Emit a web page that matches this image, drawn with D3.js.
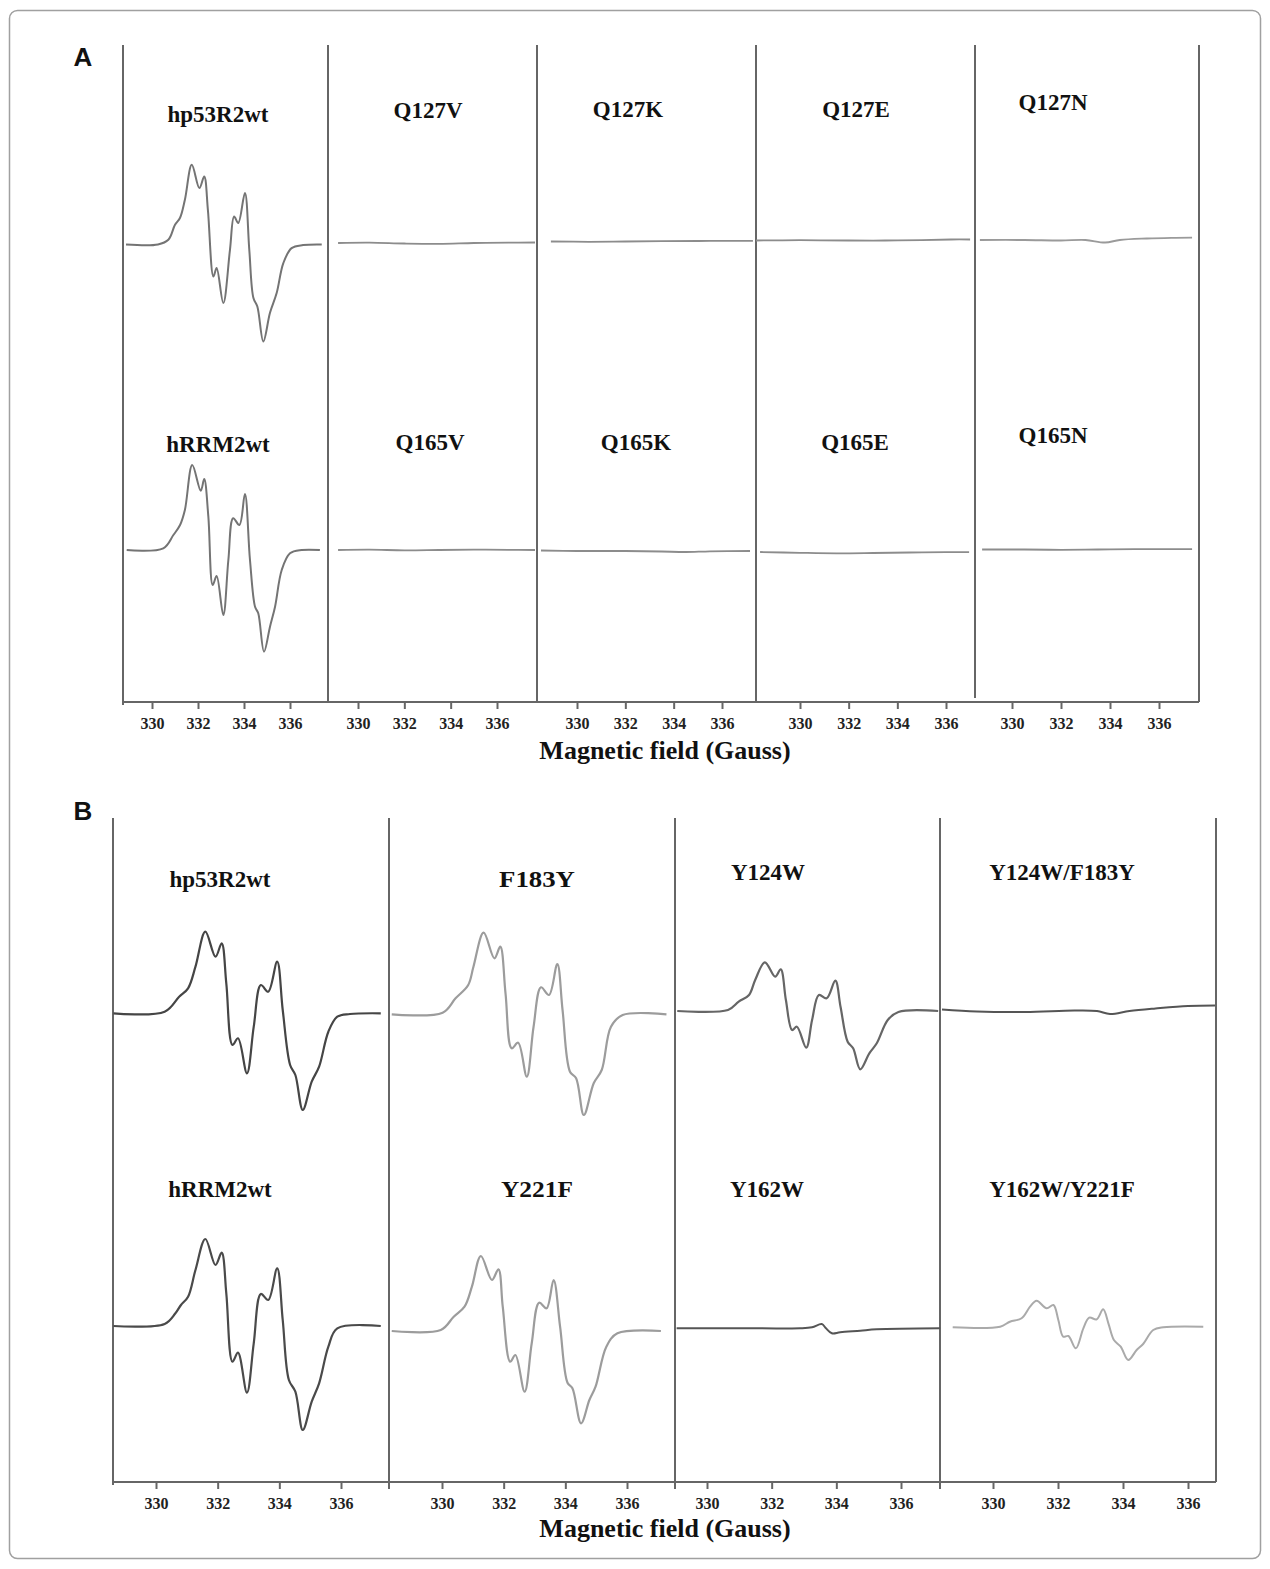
<!DOCTYPE html>
<html>
<head>
<meta charset="utf-8">
<script src="https://cdn.jsdelivr.net/npm/d3@7"></script>
<style>
  body { margin: 0; background: #fff; }
  svg { display: block; }
</style>
</head>
<body>
<svg id="fig" width="1270" height="1569"></svg>
<script>
// EPR spectra, field in Gauss, intensity in arbitrary units
const fieldTicks = [330, 332, 334, 336];

const titlesATop = ['hp53R2wt', 'Q127V', 'Q127K', 'Q127E', 'Q127N'];
const titlesABottom = ['hRRM2wt', 'Q165V', 'Q165K', 'Q165E', 'Q165N'];
const titlesBTop = ['hp53R2wt', 'F183Y', 'Y124W', 'Y124W/F183Y'];
const titlesBBottom = ['hRRM2wt', 'Y221F', 'Y162W', 'Y162W/Y221F'];

// panel A
const a_hp53R2wt = [[328.87,0],[330.26,0],[330.71,4.7],[331.0,19.7],[331.22,26.7],[331.43,44.7],[331.73,79.7],[332.06,56.4],[332.27,68],[332.43,34.7],[332.67,-32],[332.81,-23.6],[333.1,-58.6],[333.39,-5.3],[333.57,28],[333.75,21.4],[334.04,51.4],[334.23,-5.3],[334.41,-53.6],[334.58,-62],[334.84,-97],[335.13,-68.3],[335.42,-48.6],[335.71,-18.6],[336.07,-3.6],[336.57,-0.6],[337.38,0]];
const a_Q127V = [[329.14,0],[330.5,0.3],[332,-0.5],[333.5,-0.8],[335,0],[336.5,0.4],[337.64,0.5]];
const a_Q127K = [[328.92,0],[330.5,-0.3],[332,0],[333.5,0.3],[335,0.5],[336.5,0.6],[337.28,0.6]];
const a_Q127E = [[328.19,0],[330,0.3],[332,0],[333.5,0],[335,0.4],[336.2,1],[336.99,1]];
const a_Q127N = [[328.69,0],[330.5,0],[332,-0.5],[333,0],[333.8,-2.5],[334.4,0],[335.5,1.5],[336.5,2.2],[337.35,2.4]];

const a_hRRM2wt = [[328.9,0],[330.49,1.7],[330.93,15],[331.22,25],[331.43,40],[331.75,85],[332.12,59.3],[332.27,71],[332.45,33.3],[332.64,-35],[332.81,-26],[333.1,-65],[333.32,-10],[333.53,31.7],[333.8,25],[334.04,56],[334.26,-10],[334.48,-56.7],[334.62,-63.3],[334.87,-101.7],[335.13,-76.7],[335.35,-56.7],[335.64,-20],[336.0,-3.3],[336.51,0],[337.3,0]];
const a_Q165V = [[329.14,0],[330.5,0.3],[332,-0.3],[333.5,0],[335,0.3],[336.5,0.2],[337.64,0]];
const a_Q165K = [[328.51,0.5],[330,0],[332,0],[333.5,-0.5],[334.5,-1],[335.5,-0.3],[337.16,0]];
const a_Q165E = [[328.36,0.5],[330,-0.3],[331.5,-0.8],[333,-0.5],[334.5,0],[336,0.3],[336.95,0.3]];
const a_Q165N = [[328.78,0],[330.5,0],[332,-0.3],[333.5,0],[335,0.3],[336.5,0.4],[337.35,0.4]];

// panel B
const b_hp53R2wt = [[328.62,0],[330.28,1.6],[330.75,16.6],[331.04,25],[331.28,46.6],[331.6,81.6],[331.93,56.6],[332.13,70],[332.28,30],[332.48,-31.7],[332.66,-25],[332.95,-60],[333.17,-13.4],[333.4,28.3],[333.64,21.6],[333.93,51.6],[334.11,3.3],[334.35,-51.7],[334.52,-61.7],[334.76,-96.7],[335.05,-68.4],[335.29,-53.4],[335.59,-18.4],[335.88,-3.4],[336.29,-0.7],[337.29,0]];
const b_F183Y = [[328.37,0],[330.02,1.6],[330.44,16],[330.85,29.3],[331.02,47.6],[331.35,81.6],[331.7,56],[331.89,67.6],[332.06,21],[332.26,-34],[332.47,-28.4],[332.75,-62.4],[332.97,-12.4],[333.21,27],[333.47,19.3],[333.74,50.3],[333.91,4.3],[334.15,-57.4],[334.35,-64],[334.6,-100.7],[334.92,-69],[335.18,-55.7],[335.48,-12.4],[335.86,-0.7],[337.28,0]];
const b_Y124W = [[329.08,0],[330.65,1],[330.98,9.3],[331.3,16],[331.49,31],[331.79,48.7],[332.11,34.3],[332.28,41.7],[332.44,11],[332.63,-19],[332.78,-15.7],[333.07,-36.7],[333.25,-9],[333.46,16],[333.7,12.7],[333.97,30.3],[334.13,4.3],[334.35,-30.7],[334.52,-37.3],[334.74,-58.3],[335.02,-42.3],[335.25,-32.3],[335.59,-9],[335.92,-1],[337.15,0]];
const b_Y124W_F183Y = [[328.43,1.5],[329.5,-0.5],[331,-1],[332.5,0.5],[333.2,0],[333.6,-3],[334.2,0],[335,2.5],[336,5],[336.83,5.5]];

const b_hRRM2wt = [[328.62,0],[330.28,2],[330.63,12.7],[330.81,21],[331.04,29.3],[331.28,56],[331.6,87],[331.93,61],[332.13,73.3],[332.28,32.7],[332.48,-35.7],[332.66,-26.7],[332.95,-66.7],[333.17,-17.3],[333.4,32],[333.64,26],[333.93,57.7],[334.11,6],[334.31,-54],[334.52,-65.7],[334.76,-104],[335.05,-75.7],[335.29,-57.3],[335.59,-20.7],[335.88,-2.3],[337.29,0]];
const b_Y221F = [[328.37,0],[329.96,1],[330.38,14.3],[330.73,24.3],[330.97,44.3],[331.26,75],[331.62,51],[331.83,61.7],[331.97,24.3],[332.21,-30.7],[332.38,-24],[332.68,-60.7],[332.91,-12.3],[333.15,28.3],[333.39,22.7],[333.62,51],[333.83,4.3],[334.07,-51.7],[334.23,-57.3],[334.51,-92.3],[334.78,-69],[334.98,-55.7],[335.33,-15.7],[335.69,-2.3],[337.1,0]];
const b_Y162W = [[329.06,0],[331.64,0],[332.88,0],[333.25,1],[333.55,4.3],[333.68,0],[333.86,-5],[334.12,-4],[334.74,-2.4],[335.25,-1],[337.21,0]];
const b_Y162W_Y221F = [[328.76,-0.6],[330.22,0],[330.52,5],[330.88,8.4],[331.14,20],[331.34,26],[331.65,18.4],[331.86,21.7],[332.01,6.7],[332.16,-10],[332.32,-9.3],[332.55,-21.6],[332.78,-1.6],[332.96,9],[333.19,7.4],[333.39,17.4],[333.55,3.4],[333.72,-13.3],[333.93,-20],[334.16,-33.3],[334.42,-23.3],[334.62,-17.3],[334.93,-3.3],[335.24,-0.6],[336.47,0]];

const svg = d3.select('#fig');
const serif = "'Liberation Serif', 'Times New Roman', serif";

svg.append('rect')
  .attr('x', 9.5).attr('y', 10.5)
  .attr('width', 1251).attr('height', 1548)
  .attr('rx', 8)
  .attr('fill', 'none')
  .attr('stroke', '#a0a0a0')
  .attr('stroke-width', 1.5);

// intensity -> pixel offset from each trace's own baseline
const yOff = d3.scaleLinear().domain([-100, 100]).range([100, -100]);

const panels = [
  {
    letter: 'A', letterY: 66,
    left: 123, right: 1199, top: 45, axisY: 702, labelY: 759,
    dividers: [[328, 702], [537, 702], [756, 702], [975, 698]],
    cols: [[152, 290], [358, 497], [577, 722], [800, 946], [1012, 1159]],
    cells: [
      { col: 0, name: titlesATop[0], tx: 218, ty: 122, base: 244.5, data: a_hp53R2wt, color: '#747474', w: 2 },
      { col: 1, name: titlesATop[1], tx: 428, ty: 118, base: 243, data: a_Q127V, color: '#8c8c8c', w: 1.8 },
      { col: 2, name: titlesATop[2], tx: 628, ty: 117, base: 241.5, data: a_Q127K, color: '#8c8c8c', w: 1.8 },
      { col: 3, name: titlesATop[3], tx: 856, ty: 117, base: 240.5, data: a_Q127E, color: '#8c8c8c', w: 1.8 },
      { col: 4, name: titlesATop[4], tx: 1053, ty: 110, base: 240, data: a_Q127N, color: '#9a9a9a', w: 1.8 },
      { col: 0, name: titlesABottom[0], tx: 218, ty: 452, base: 550, data: a_hRRM2wt, color: '#747474', w: 2 },
      { col: 1, name: titlesABottom[1], tx: 430, ty: 450, base: 550, data: a_Q165V, color: '#8c8c8c', w: 1.8 },
      { col: 2, name: titlesABottom[2], tx: 636, ty: 450, base: 551, data: a_Q165K, color: '#8c8c8c', w: 1.8 },
      { col: 3, name: titlesABottom[3], tx: 855, ty: 450, base: 552.5, data: a_Q165E, color: '#8c8c8c', w: 1.8 },
      { col: 4, name: titlesABottom[4], tx: 1053, ty: 443, base: 549.5, data: a_Q165N, color: '#8c8c8c', w: 1.8 }
    ]
  },
  {
    letter: 'B', letterY: 820,
    left: 113, right: 1216, top: 818, axisY: 1482, labelY: 1537,
    dividers: [[389, 1489], [675, 1489], [940, 1489]],
    cols: [[156, 341], [442, 627], [707, 901], [993, 1188]],
    cells: [
      { col: 0, name: titlesBTop[0], tx: 220, ty: 887, base: 1013.3, data: b_hp53R2wt, color: '#454545', w: 2.2 },
      { col: 1, name: titlesBTop[1], tx: 537, ty: 887, base: 1014.3, data: b_F183Y, color: '#9c9c9c', w: 2.2, len: 76 },
      { col: 2, name: titlesBTop[2], tx: 768, ty: 880, base: 1011, data: b_Y124W, color: '#666', w: 2.2 },
      { col: 3, name: titlesBTop[3], tx: 1062, ty: 880, base: 1011, data: b_Y124W_F183Y, color: '#555', w: 2 },
      { col: 0, name: titlesBBottom[0], tx: 220, ty: 1197, base: 1326, data: b_hRRM2wt, color: '#4a4a4a', w: 2.2 },
      { col: 1, name: titlesBBottom[1], tx: 537, ty: 1197, base: 1331, data: b_Y221F, color: '#9c9c9c', w: 2.2, len: 72 },
      { col: 2, name: titlesBBottom[2], tx: 767, ty: 1197, base: 1328.3, data: b_Y162W, color: '#555', w: 2 },
      { col: 3, name: titlesBBottom[3], tx: 1062, ty: 1197, base: 1326.7, data: b_Y162W_Y221F, color: '#aaa', w: 2 }
    ]
  }
];

panels.forEach(p => {
  const g = svg.append('g');

  g.append('text')
    .attr('x', 83).attr('y', p.letterY)
    .attr('text-anchor', 'middle')
    .attr('font-family', 'Liberation Sans, Arial, sans-serif')
    .attr('font-weight', 'bold')
    .attr('font-size', 26)
    .attr('fill', '#111')
    .text(p.letter);

  const xs = p.cols.map(r => d3.scaleLinear().domain([330, 336]).range(r));

  // frame: outer verticals, dividers, bottom axis line
  const frame = g.append('g').attr('stroke', '#666').attr('stroke-width', 2).attr('fill', 'none');
  frame.append('line').attr('x1', p.left).attr('x2', p.left).attr('y1', p.top).attr('y2', p.axisY + 3);
  frame.append('line').attr('x1', p.right).attr('x2', p.right).attr('y1', p.top).attr('y2', p.axisY);
  frame.selectAll('line.div')
    .data(p.dividers)
    .enter()
    .append('line')
    .attr('class', 'div')
    .attr('x1', d => d[0]).attr('x2', d => d[0])
    .attr('y1', p.top).attr('y2', d => d[1]);
  frame.append('line').attr('x1', p.left).attr('x2', p.right).attr('y1', p.axisY).attr('y2', p.axisY);

  xs.forEach(x => {
    const ax = g.append('g')
      .attr('transform', `translate(0,${p.axisY})`)
      .call(d3.axisBottom(x).tickValues(fieldTicks).tickSize(7).tickPadding(9).tickFormat(d3.format('d')));
    ax.select('.domain').remove();
    ax.selectAll('.tick line').attr('stroke', '#666').attr('stroke-width', 2);
    ax.selectAll('.tick text')
      .attr('font-family', serif)
      .attr('font-weight', 'bold')
      .attr('font-size', 16)
      .attr('fill', '#222');
  });

  p.cells.forEach(c => {
    const x = xs[c.col];
    const line = d3.line()
      .x(d => x(d[0]))
      .y(d => c.base + yOff(d[1]))
      .curve(d3.curveCatmullRom.alpha(0.5));

    g.append('path')
      .datum(c.data)
      .attr('d', line)
      .attr('fill', 'none')
      .attr('stroke', c.color)
      .attr('stroke-width', c.w)
      .attr('stroke-linejoin', 'round');

    const t = g.append('text')
      .attr('x', c.tx).attr('y', c.ty)
      .attr('text-anchor', 'middle')
      .attr('font-family', serif)
      .attr('font-weight', 'bold')
      .attr('font-size', 23)
      .attr('fill', '#111')
      .text(c.name);
    if (c.len) t.attr('textLength', c.len).attr('lengthAdjust', 'spacingAndGlyphs');
  });

  g.append('text')
    .attr('x', 665).attr('y', p.labelY)
    .attr('text-anchor', 'middle')
    .attr('font-family', serif)
    .attr('font-weight', 'bold')
    .attr('font-size', 26)
    .attr('fill', '#111')
    .text('Magnetic field (Gauss)');
});
</script>
</body>
</html>
